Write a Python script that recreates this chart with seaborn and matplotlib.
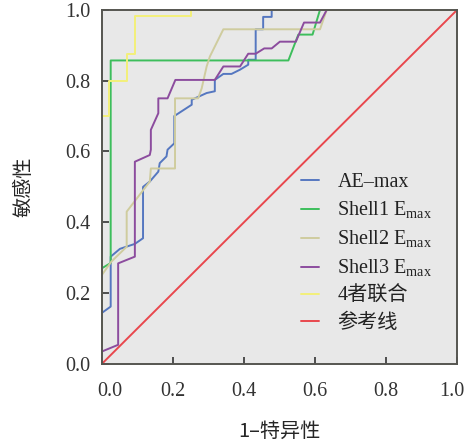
import pandas as pd
import matplotlib
matplotlib.use("Agg")
import matplotlib.pyplot as plt
import matplotlib.transforms as mtransforms
import seaborn as sns

# =========================
# DATA
# =========================

ae_fpr = [0.0, 0.0, 0.025, 0.025, 0.051, 0.093, 0.116, 0.116, 0.135, 0.159, 0.163, 0.182, 0.185,
          0.204, 0.204, 0.253, 0.253, 0.295, 0.318, 0.318, 0.342, 0.365, 0.389, 0.412, 0.412,
          0.433, 0.433, 0.454, 0.454, 0.478, 0.478, 1.0]
ae_tpr = [0.0, 0.144, 0.162, 0.303, 0.325, 0.339, 0.355, 0.50, 0.515, 0.543, 0.567, 0.586, 0.605,
          0.623, 0.70, 0.732, 0.746, 0.765, 0.77, 0.802, 0.819, 0.819, 0.831, 0.845, 0.859,
          0.859, 0.945, 0.945, 0.98, 0.98, 1.0, 1.0]

s1_fpr = [0.0, 0.0, 0.025, 0.025, 0.525, 0.553, 0.593, 0.614, 1.0]
s1_tpr = [0.0, 0.27, 0.285, 0.857, 0.857, 0.93, 0.93, 1.0, 1.0]

s2_fpr = [0.0, 0.0, 0.027, 0.07, 0.07, 0.135, 0.138, 0.206, 0.206, 0.271, 0.281, 0.295, 0.304,
          0.342, 0.614, 0.633, 1.0]
s2_tpr = [0.0, 0.251, 0.289, 0.331, 0.43, 0.515, 0.552, 0.552, 0.75, 0.75, 0.778, 0.84, 0.868,
          0.945, 0.945, 1.0, 1.0]

s3_fpr = [0.0, 0.0, 0.046, 0.046, 0.093, 0.093, 0.135, 0.138, 0.138, 0.159, 0.159, 0.185, 0.207,
          0.318, 0.342, 0.389, 0.412, 0.433, 0.457, 0.478, 0.501, 0.546, 0.569, 0.614, 0.633, 1.0]
s3_tpr = [0.0, 0.035, 0.054, 0.284, 0.303, 0.571, 0.59, 0.605, 0.661, 0.708, 0.75, 0.75, 0.802,
          0.802, 0.84, 0.84, 0.876, 0.876, 0.891, 0.891, 0.91, 0.91, 0.964, 0.964, 1.0, 1.0]

comb_fpr = [0.0, 0.0, 0.02, 0.02, 0.07, 0.07, 0.093, 0.093, 0.25, 0.25, 1.0]
comb_tpr = [0.0, 0.70, 0.70, 0.80, 0.80, 0.876, 0.876, 0.983, 0.983, 1.0, 1.0]

ref_fpr = [0.0, 1.0]
ref_tpr = [0.0, 1.0]

labels = ["AE–max", "Shell1 E$_{\\mathrm{max}}$", "Shell2 E$_{\\mathrm{max}}$",
          "Shell3 E$_{\\mathrm{max}}$", "4者联合", "参考线"]
colors = ["#5577c0", "#3dbe5c", "#cfcc9e", "#8c4c9e", "#f3f07a", "#e8474d"]

curves = [(ae_fpr, ae_tpr), (s1_fpr, s1_tpr), (s2_fpr, s2_tpr),
          (s3_fpr, s3_tpr), (comb_fpr, comb_tpr), (ref_fpr, ref_tpr)]

rows = []
for name, (fx, ty) in zip(labels, curves):
    for i, (a, b) in enumerate(zip(fx, ty)):
        rows.append({"curve": name, "order": i, "fpr": a, "tpr": b})
df = pd.DataFrame(rows)

# =========================
# STYLE
# =========================

sns.set_style("ticks", {"axes.facecolor": "#e8e8e8"})
plt.rcParams["font.family"] = ["Liberation Serif", "Noto Sans CJK SC", "DejaVu Sans"]
plt.rcParams["mathtext.fontset"] = "custom"
plt.rcParams["mathtext.rm"] = "Liberation Serif"

fig = plt.figure(figsize=(4.67, 4.46), dpi=100)
ax = fig.add_axes([0.218, 0.184, 0.761, 0.794])

sns.lineplot(
    data=df, x="fpr", y="tpr", hue="curve", units="curve",
    estimator=None, sort=False, palette=dict(zip(labels, colors)),
    hue_order=labels, linewidth=1.4, ax=ax
)

ax.set_xlim(0, 1)
ax.set_ylim(0, 1)
ax.set_xticks([0, 0.2, 0.4, 0.6, 0.8, 1.0])
ax.set_yticks([0, 0.2, 0.4, 0.6, 0.8, 1.0])
ax.set_xticklabels(["0.0", "0.2", "0.4", "0.6", "0.8", "1.0"])
ax.set_yticklabels(["0.0", "0.2", "0.4", "0.6", "0.8", "1.0"])
ax.tick_params(direction="in", length=5, width=1.2, colors="#333333", labelsize=14.5)
ax.tick_params(axis="x", pad=13)
ax.tick_params(axis="y", pad=8)
for s in ax.spines.values():
    s.set_color("#555550")
    s.set_linewidth(1.4)

# nudge the end labels inward like the original
xt = ax.get_xticklabels()
xt[0].set_transform(xt[0].get_transform() + mtransforms.ScaledTranslation(0.08, 0, fig.dpi_scale_trans))
xt[-1].set_transform(xt[-1].get_transform() + mtransforms.ScaledTranslation(-0.05, 0, fig.dpi_scale_trans))

ax.set_xlabel("1–特异性", fontsize=14.5, labelpad=14, family=["Noto Sans CJK SC", "DejaVu Sans"])
ax.set_ylabel("敏感性", fontsize=14.5, labelpad=22, family=["Noto Sans CJK SC", "DejaVu Sans"])

leg = ax.legend(loc="upper left", bbox_to_anchor=(0.51, 0.59), frameon=False,
                handlelength=0.9, handletextpad=0.9, labelspacing=0.38, fontsize=14.5)
for t in leg.get_texts():
    t.set_color("#222222")

plt.savefig("out.png", dpi=100)
